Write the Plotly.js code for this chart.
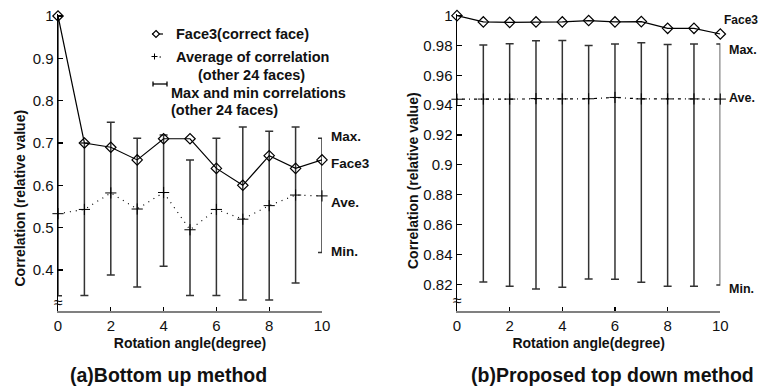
<!DOCTYPE html>
<html>
<head>
<meta charset="utf-8">
<script src="https://cdn.plot.ly/plotly-3.0.1.min.js"></script>
<style>html,body{margin:0;padding:0;background:#fff;}#chart{width:760px;height:388px;}</style>
</head>
<body>
<div id="chart"></div>
<script>
// ---------- data ----------
const angles = [0, 1, 2, 3, 4, 5, 6, 7, 8, 9, 10];

// (a) Bottom up method
const faceA = [1.0, 0.70, 0.69, 0.66, 0.71, 0.71, 0.64, 0.60, 0.67, 0.64, 0.66];
const aveA  = [0.533, 0.543, 0.582, 0.544, 0.583, 0.495, 0.543, 0.520, 0.552, 0.577, 0.575];
const maxA  = [1.0, 0.70, 0.749, 0.711, 0.719, 0.66, 0.711, 0.738, 0.728, 0.738, 0.711];
const minA  = [0.339, 0.340, 0.388, 0.360, 0.409, 0.340, 0.340, 0.329, 0.329, 0.369, 0.441];

// (b) Proposed top down method
const faceB = [1.0, 0.9958, 0.9955, 0.9958, 0.9958, 0.9967, 0.9958, 0.9960, 0.9915, 0.9915, 0.9877];
const aveB  = [0.9440, 0.9441, 0.9441, 0.9444, 0.9442, 0.9443, 0.9452, 0.9442, 0.9442, 0.9442, 0.9441];
const barAnglesB = [1, 2, 3, 4, 5, 6, 7, 8, 9, 10];
const maxB  = [0.9804, 0.9812, 0.9832, 0.9834, 0.9800, 0.9810, 0.9818, 0.9806, 0.9810, 0.9810];
const minB  = [0.8216, 0.8187, 0.8169, 0.8180, 0.8236, 0.8234, 0.8214, 0.8187, 0.8187, 0.8195];

const yTicksA = [0.4, 0.5, 0.6, 0.7, 0.8, 0.9, 1.0];
const yTickTextA = ["0.4", "0.5", "0.6", "0.7", "0.8", "0.9", "1"];
const yTicksB = [0.82, 0.84, 0.86, 0.88, 0.90, 0.92, 0.94, 0.96, 0.98, 1.0];
const yTickTextB = ["0.82", "0.84", "0.86", "0.88", "0.9", "0.92", "0.94", "0.96", "0.98", "1"];
const xTicks = [0, 2, 4, 6, 8, 10];

// ---------- helpers ----------
const W = 760, H = 388;
const px = v => v / W;
const py = v => 1 - v / H;
const FONT = "Liberation Sans, Arial, sans-serif";

const aveBarsB = barAnglesB.map(a => aveB[angles.indexOf(a)]);

const errColor = "#333";
const dotted = "1px,5px";
const traces = [
  // (a) error bars
  {x: angles, y: aveA, type: "scatter", mode: "none", xaxis: "x", yaxis: "y", showlegend: false,
   error_y: {type: "data", symmetric: false,
     array: maxA.map((m, i) => m - aveA[i]), arrayminus: minA.map((m, i) => aveA[i] - m),
     color: errColor, thickness: 1.5, width: 4}},
  // (a) average
  {x: angles, y: aveA, type: "scatter", mode: "lines+markers", xaxis: "x", yaxis: "y", showlegend: false,
   line: {color: "#000", width: 1.2, dash: dotted},
   marker: {symbol: "cross-thin", size: 8, line: {color: "#000", width: 1}}, cliponaxis: false},
  // (a) Face3
  {x: angles, y: faceA, type: "scatter", mode: "lines+markers", xaxis: "x", yaxis: "y", showlegend: false,
   line: {color: "#000", width: 1.2},
   marker: {symbol: "diamond-open", size: 8, color: "#000", line: {color: "#000", width: 1.2}}, cliponaxis: false},
  // (b) error bars
  {x: barAnglesB, y: aveBarsB, type: "scatter", mode: "none", xaxis: "x2", yaxis: "y2", showlegend: false,
   error_y: {type: "data", symmetric: false,
     array: maxB.map((m, i) => m - aveBarsB[i]), arrayminus: minB.map((m, i) => aveBarsB[i] - m),
     color: errColor, thickness: 1.5, width: 4}},
  // (b) average
  {x: angles, y: aveB, type: "scatter", mode: "lines+markers", xaxis: "x2", yaxis: "y2", showlegend: false,
   line: {color: "#000", width: 1.2, dash: "1px,4px,3px,4px"},
   marker: {symbol: "cross-thin", size: 8, line: {color: "#000", width: 1}}, cliponaxis: false},
  // (b) Face3
  {x: angles, y: faceB, type: "scatter", mode: "lines+markers", xaxis: "x2", yaxis: "y2", showlegend: false,
   line: {color: "#000", width: 1.2},
   marker: {symbol: "diamond-open", size: 8, color: "#000", line: {color: "#000", width: 1.2}}, cliponaxis: false}
];

const yDom = [77 / H, 374 / H];
const xAxisCommon = {
  range: [0, 10], tickvals: xTicks, ticks: "inside", ticklen: 4, tickwidth: 1.2, tickcolor: "#000",
  showgrid: false, zeroline: false, showline: true, linecolor: "#808080", linewidth: 2,
  tickfont: {family: FONT, size: 15, color: "#111"}, fixedrange: true,
  title: {text: "<b>Rotation angle(degree)</b>", font: {family: FONT, size: 14, color: "#111"}, standoff: 5}
};
const yAxisCommon = {
  ticks: "inside", ticklen: 5, tickwidth: 1.2, tickcolor: "#000",
  showgrid: false, zeroline: false, showline: true, linecolor: "#000", linewidth: 1.5,
  tickfont: {family: FONT, size: 15, color: "#111"}, domain: yDom, fixedrange: true
};

const layout = {
  width: W, height: H, margin: {l: 0, r: 0, t: 0, b: 0},
  paper_bgcolor: "#fff", plot_bgcolor: "rgba(0,0,0,0)", showlegend: false,
  font: {family: FONT, color: "#111"},
  xaxis: Object.assign({}, xAxisCommon, {domain: [px(58), px(322)], anchor: "y"}),
  yaxis: Object.assign({}, yAxisCommon, {range: [0.3031, 1.0047], tickvals: yTicksA, ticktext: yTickTextA, anchor: "x"}),
  xaxis2: Object.assign({}, xAxisCommon, {domain: [px(457), px(720.3)], anchor: "y2"}),
  yaxis2: Object.assign({}, yAxisCommon, {range: [0.8021, 1.0011], tickvals: yTicksB, ticktext: yTickTextB, anchor: "x2"}),
  shapes: [
    // legend: Face3 symbol
    {type: "line", xref: "paper", yref: "paper", x0: px(152), x1: px(163), y0: py(34), y1: py(34), line: {color: "#000", width: 1.2}},
    {type: "path", xref: "paper", yref: "paper",
     path: `M${px(156)},${py(30.5)} L${px(159.5)},${py(34)} L${px(156)},${py(37.5)} L${px(152.5)},${py(34)} Z`,
     fillcolor: "#fff", line: {color: "#000", width: 1.2}},
    // legend: average symbol
    {type: "line", xref: "paper", yref: "paper", x0: px(151.5), x1: px(157.5), y0: py(56.5), y1: py(56.5), line: {color: "#000", width: 1}},
    {type: "line", xref: "paper", yref: "paper", x0: px(154.5), x1: px(154.5), y0: py(53.5), y1: py(59.5), line: {color: "#000", width: 1}},
    {type: "line", xref: "paper", yref: "paper", x0: px(159.5), x1: px(161), y0: py(57), y1: py(57), line: {color: "#000", width: 1}},
    // legend: error bar symbol
    {type: "line", xref: "paper", yref: "paper", x0: px(153), x1: px(167), y0: py(84), y1: py(84), line: {color: "#000", width: 1.3}},
    {type: "line", xref: "paper", yref: "paper", x0: px(153), x1: px(153), y0: py(81.5), y1: py(86.5), line: {color: "#000", width: 1.3}},
    {type: "line", xref: "paper", yref: "paper", x0: px(167), x1: px(167), y0: py(81.5), y1: py(86.5), line: {color: "#000", width: 1.3}}
  ],
  annotations: []
};

function note(text, x, y, size, opts) {
  layout.annotations.push(Object.assign({
    text: text, xref: "paper", yref: "paper", x: px(x), y: py(y),
    xanchor: "left", yanchor: "middle", showarrow: false,
    font: {family: FONT, size: size, color: "#111"}
  }, opts || {}));
}

// y axis titles
note("<b>Correlation (relative value)</b>", 20, 198.5, 14, {xanchor: "center", textangle: -90});
note("<b>Correlation (relative value)</b>", 413, 181, 14, {xanchor: "center", textangle: -90});

// legend text
note("<b>Face3(correct face)</b>", 174, 34, 14.5);
note("<b>Average of correlation</b>", 174, 57, 14.5);
note("<b>(other 24 faces)</b>", 196, 75, 14.5);
note("<b>Max and min correlations</b>", 169, 93, 14.5);
note("<b>(other 24 faces)</b>", 169, 110, 14.5);

// series labels (a)
note("<b>Max.</b>", 329, 136, 13.5);
note("<b>Face3</b>", 329, 163, 13.5);
note("<b>Ave.</b>", 329, 202, 13.5);
note("<b>Min.</b>", 329, 251, 13.5);
// series labels (b)
note("<b>Face3</b>", 722, 20, 12);
note("<b>Max.</b>", 727, 50, 12.5);
note("<b>Ave.</b>", 727, 98, 12.5);
note("<b>Min.</b>", 727, 289, 12.5);

// axis break marks
note("≈", 58, 302, 16, {xanchor: "center"});
note("≈", 457, 300, 16, {xanchor: "center"});

// panel captions
note("<b>(a)Bottom up method</b>", 168.5, 375, 19.5, {xanchor: "center"});
note("<b>(b)Proposed top down method</b>", 612.5, 375, 19.5, {xanchor: "center"});

Plotly.newPlot("chart", traces, layout, {staticPlot: true, displayModeBar: false});
</script>
</body>
</html>
